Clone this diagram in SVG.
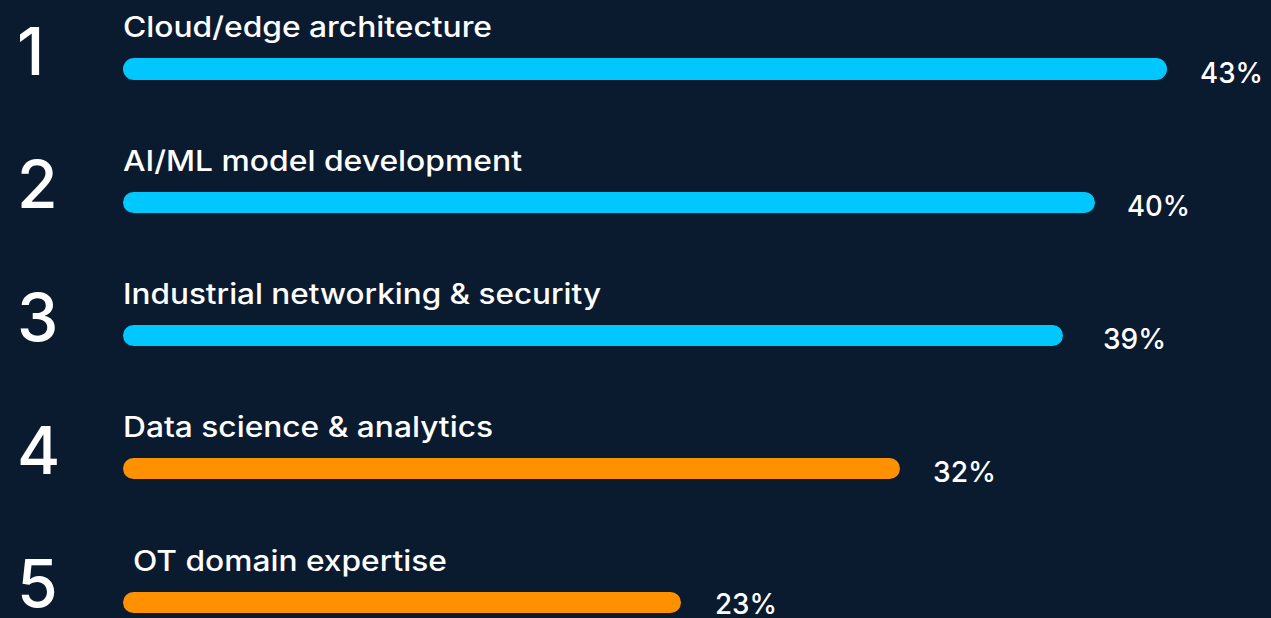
<svg xmlns="http://www.w3.org/2000/svg" width="1271" height="618" viewBox="0 0 1271 618">
<style>
.bg{fill:#0a1a2f}
.num{font-family:Inter,"Liberation Sans",Arial,sans-serif;font-size:66px;font-weight:500;fill:#ffffff}
.lbl{font-family:Inter,"Liberation Sans",Arial,sans-serif;font-size:28px;font-weight:500;fill:#ffffff}
.pct{font-family:Inter,"Liberation Sans",Arial,sans-serif;font-size:29px;font-weight:500;fill:#ffffff}
.cyan{fill:#00c8ff}
.orange{fill:#ff9100}
</style>
<rect class="bg" x="0" y="0" width="1271" height="618"/>
<g id="row1">
<text class="num" x="17" y="75">1</text>
<text class="lbl" x="123" y="37" textLength="369" lengthAdjust="spacingAndGlyphs">Cloud/edge architecture</text>
<rect class="cyan" x="123" y="58" width="1044" height="22" rx="11"/>
<text class="pct" x="1200" y="83" textLength="63" lengthAdjust="spacingAndGlyphs">43%</text>
</g>
<g id="row2">
<text class="num" x="17" y="208">2</text>
<text class="lbl" x="123" y="171" textLength="399" lengthAdjust="spacingAndGlyphs">AI/ML model development</text>
<rect class="cyan" x="123" y="192" width="972" height="21" rx="10.5"/>
<text class="pct" x="1127" y="216" textLength="63" lengthAdjust="spacingAndGlyphs">40%</text>
</g>
<g id="row3">
<text class="num" x="17" y="341">3</text>
<text class="lbl" x="123" y="304" textLength="478" lengthAdjust="spacingAndGlyphs">Industrial networking &amp; security</text>
<rect class="cyan" x="123" y="325" width="940" height="21" rx="10.5"/>
<text class="pct" x="1103" y="349" textLength="63" lengthAdjust="spacingAndGlyphs">39%</text>
</g>
<g id="row4">
<text class="num" x="17" y="474">4</text>
<text class="lbl" x="123" y="437" textLength="370" lengthAdjust="spacingAndGlyphs">Data science &amp; analytics</text>
<rect class="orange" x="123" y="458" width="777" height="21" rx="10.5"/>
<text class="pct" x="933" y="482" textLength="63" lengthAdjust="spacingAndGlyphs">32%</text>
</g>
<g id="row5">
<text class="num" x="17" y="607">5</text>
<text class="lbl" x="133" y="571" textLength="314" lengthAdjust="spacingAndGlyphs">OT domain expertise</text>
<rect class="orange" x="123" y="592" width="558" height="21" rx="10.5"/>
<text class="pct" x="715" y="614" textLength="62" lengthAdjust="spacingAndGlyphs">23%</text>
</g>
</svg>
